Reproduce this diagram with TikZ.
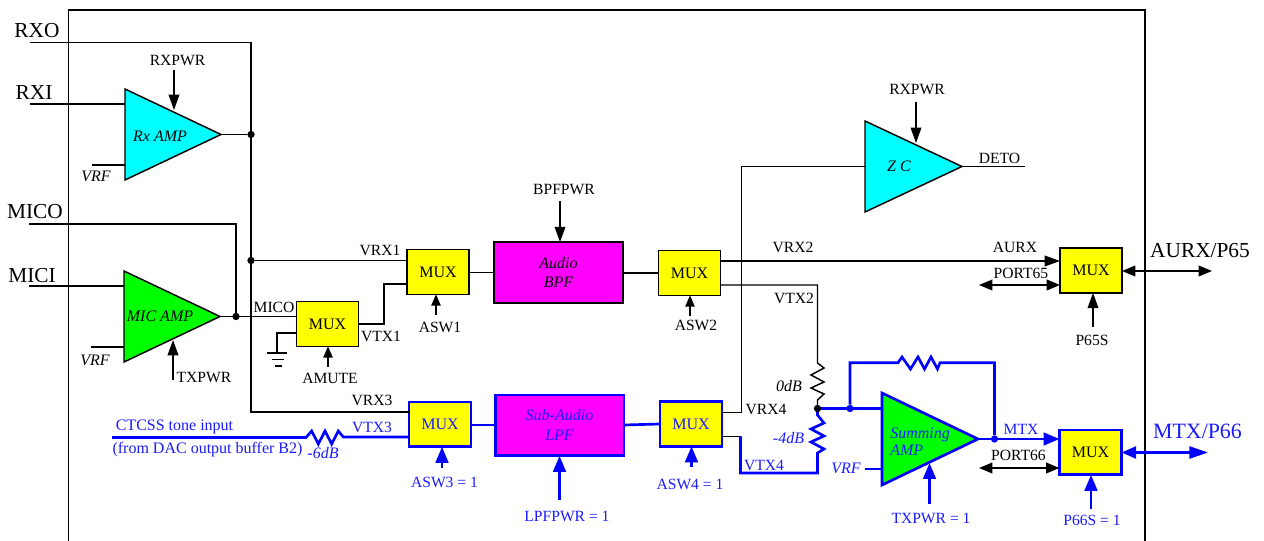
\documentclass[tikz,border=0pt]{standalone}
\usepackage{fontspec}
\setmainfont{Liberation Serif}
\usetikzlibrary{arrows.meta}
\definecolor{bl}{RGB}{0,0,255}
\definecolor{bltxt}{RGB}{26,26,255}
\definecolor{cy}{RGB}{0,255,255}
\definecolor{gr}{RGB}{0,255,0}
\definecolor{mg}{RGB}{255,0,255}
\definecolor{yl}{RGB}{255,255,0}
\tikzset{
  wire/.style={line width=1.1pt,black,line join=miter},
  bwire/.style={line width=2pt,bl,line join=miter},
  tipS/.style={-{Triangle[length=8.5pt,width=7pt]}},
  tipL/.style={-{Triangle[length=11.5pt,width=8pt]}},
  tipB/.style={-{Triangle[length=12pt,width=9.5pt]}},
  tipD/.style={{Triangle[length=10pt,width=8pt]}-{Triangle[length=10pt,width=8pt]}},
  tipBD/.style={{Triangle[length=11pt,width=9pt]}-{Triangle[length=14pt,width=9pt]}},
  lab/.style={inner sep=0pt,font=\fontsize{11.7}{13}\selectfont},
  blab/.style={lab,text=bltxt},
  big/.style={inner sep=0pt,font=\fontsize{16}{18}\selectfont},
  ital/.style={inner sep=0pt,font=\fontsize{12}{14}\selectfont\itshape},
  bital/.style={ital,text=bltxt},
  mux/.style={draw,fill=yl,line width=1.1pt,inner sep=0pt,outer sep=0pt,minimum width=46.5pt,minimum height=33.5pt,font=\fontsize{12}{14}\selectfont},
  bmux/.style={mux,draw=bl,line width=2pt},
  filt/.style={draw,fill=mg,line width=1.1pt,inner sep=0pt,outer sep=0pt,minimum width=96.5pt,minimum height=45.5pt},
  bfilt/.style={filt,draw=bl,line width=2pt},
  tri/.style={line width=1.1pt,line join=miter},
  btri/.style={line width=2pt,draw=bl,line join=miter},
  dot/.style={circle,fill=black,inner sep=0pt,minimum size=5.5pt},
  bdot/.style={circle,fill=bl,inner sep=0pt,minimum size=5.5pt},
}
\begin{document}
\begin{tikzpicture}[x=0.75pt,y=-0.75pt]
\useasboundingbox (0,0) rectangle (1264,541);
% outer box
\coordinate (bl1) at (68.5,541); \coordinate (tl1) at (68.5,10);
\coordinate (tr1) at (1145,10); \coordinate (br1) at (1145,541);
\draw[wire] (bl1) -- (tl1) -- (tr1) -- (br1);

% amplifiers
\draw[tri,fill=cy] (125,89) coordinate (rxa) -- (125,180) coordinate (rxb) -- (221,134.5) coordinate (rxo) -- cycle;
\draw[tri,fill=gr] (124,271) coordinate (mca) -- (124,362) coordinate (mcb) -- (220,316.5) coordinate (mco) -- cycle;
\draw[tri,fill=cy] (865,121) coordinate (zca) -- (865,212) coordinate (zcb) -- (962,166.5) coordinate (zco) -- cycle;
\draw[btri,fill=gr] (882,393) coordinate (sma) -- (882,485) coordinate (smb) -- (978,439) coordinate (smo) -- cycle;
\node[ital] (rxamp) at (160,136) {Rx AMP};
\node[ital] (micamp) at (160,316) {MIC AMP};
\node[ital] (zc) at (899,166) {Z C};
\node[bital,anchor=west] (sum1) at (890,435) {Summing};
\node[bital,anchor=west] (sum2) at (890,450) {AMP};

% blocks
\node[mux] (m1) at (438,272) {MUX};
\node[mux] (ma) at (327.5,324) {MUX};
\node[mux] (m2) at (689.5,273) {MUX};
\node[mux] (m5) at (1091,270.5) {MUX};
\node[bmux,text=bltxt] (m3) at (440,424.5) {MUX};
\node[bmux,text=bltxt] (m4) at (691,424) {MUX};
\node[bmux] (m6) at (1090.5,452.5) {MUX};
\node[filt] (bpf) at (558.5,272.5) {};
\node[bfilt] (lpf) at (559.5,425.5) {};
\node[ital] (bpft1) at (558.5,263) {Audio};
\node[ital] (bpft2) at (558.5,282) {BPF};
\node[bital] (lpft1) at (559.5,415) {Sub-Audio};
\node[bital] (lpft2) at (559.5,435) {LPF};

% junctions
\node[dot] (j1) at (251,134.5) {};
\node[dot] (j2) at (251,260.5) {};
\node[dot] (j3) at (236,316.5) {};
\node[bdot] (j5) at (850,408.5) {};
\node[bdot] (j6) at (994.5,439) {};

% free ends
\coordinate (rxoE) at (30,42.5);
\coordinate (rxiE) at (30,104);
\coordinate (micoE) at (29,224);
\coordinate (miciE) at (29,286);
\coordinate (vrfA) at (92,165);
\coordinate (vrfB) at (91,347);
\coordinate (vrfC) at (865,469);
\coordinate (detoE) at (1025,166.5);
\coordinate (ctE) at (112,437.5);
\coordinate (j4c) at (817.5,408.5);

% left side wiring
\draw[wire] (rxoE) -- (251,42.5) -- (251,412) -- (m3.west |- 0,412);
\draw[wire] (rxiE) -- (rxiE -| rxa);
\draw[wire] (vrfA) -- (vrfA -| rxa);
\draw[wire] (rxo) -- (j1);
\draw[wire] (j2) -- (m1.west |- j2);
\draw[wire] (micoE) -- (236,224) -- (j3);
\draw[wire] (miciE) -- (miciE -| mca);
\draw[wire] (vrfB) -- (vrfB -| mca);
\draw[wire] (mco) -- (ma.west |- mco);
\draw[wire] (ma.east |- 0,324) -- (384,324) -- (384,284) -- (m1.west |- 0,284);
% ground
\coordinate (g1) at (277,353);
\draw[wire] (ma.west |- 0,333) -- (277,333) -- (g1);
\draw[wire] (267,353) -- (287,353);
\draw[wire] (272,359.5) -- (284,359.5);
\draw[wire] (275,366) -- (281.5,366);

% middle wiring
\draw[wire] (m1.east |- 0,272.5) -- (bpf.west |- 0,272.5);
\draw[wire] (bpf.east |- 0,273) -- (m2.west |- 0,273);
\draw[wire,tipL] (m2.east |- 0,261) -- (m5.west |- 0,261);
\draw[wire] (m2.east |- 0,285) -- (817.5,285) -- (817.5,363) -- (824,368) -- (811,375) -- (824,382) -- (811,388) -- (824,394) -- (817.5,400) -- (j4c);
\draw[wire] (m4.east |- 0,412.5) -- (741.5,412.5) -- (741.5,166.5) -- (zca |- zco);
\draw[wire] (zco) -- (detoE);
\draw[wire] (m4.east |- 0,436.5) -- (740.5,436.5);

% blue wiring
\draw[bwire] (ctE) -- (306,437.5) -- (311.7,431) -- (318.3,444) -- (325,431) -- (331.7,444) -- (338.3,431) -- (343.3,437) -- (m3.west |- 0,437);
\draw[bwire] (m3.east |- 0,425) -- (lpf.west |- 0,425);
\draw[bwire] (lpf.east |- 0,425) -- (m4.west |- 0,424);
\draw[bwire] (740.5,436.5) -- (740.5,473) -- (817.5,473) -- (817.5,453) -- (824,449) -- (811,442) -- (824,436) -- (811,429) -- (824,423) -- (817.5,415) -- (j4c);
\draw[bwire] (j4c) -- (sma |- j4c);
\node[dot] (j4) at (j4c) {};
\draw[bwire] (j5) -- (850,362.7) -- (898,362.7) -- (902,357) -- (910.5,369) -- (918,357) -- (924.5,369) -- (931,357) -- (937.5,369) -- (940,362.7) -- (994.5,362.7) -- (j6);
\draw[bwire] (vrfC) -- (vrfC -| sma);
\draw[bwire,tipB] (smo) -- (m6.west |- smo);

% control arrows
\coordinate (pa) at (174,70); \draw[wire,tipL] (pa) -- (174,110);
\coordinate (pb) at (173,380); \draw[wire,tipL] (pb) -- (173,340);
\coordinate (pc) at (328,367); \draw[wire,tipS] (pc) -- (ma.south -| pc);
\coordinate (pd) at (436,315); \draw[wire,tipS] (pd) -- (m1.south -| pd);
\coordinate (pe) at (690,316); \draw[wire,tipS] (pe) -- (m2.south -| pe);
\coordinate (pf) at (560,201); \draw[wire,tipL] (pf) -- (bpf.north -| pf);
\coordinate (pg) at (916,102); \draw[wire,tipL] (pg) -- (916,143);
\coordinate (ph) at (1093,327); \draw[wire,tipL] (ph) -- (m5.south -| ph);
\coordinate (pi) at (442,468); \draw[bwire,tipB] (pi) -- (m3.south -| pi);
\coordinate (pj) at (559.5,500); \draw[bwire,tipB] (pj) -- (lpf.south -| pj);
\coordinate (pk) at (691.5,467); \draw[bwire,tipB] (pk) -- (m4.south -| pk);
\coordinate (pl) at (929.5,504); \draw[bwire,tipB] (pl) -- (929.5,463);
\coordinate (pm) at (1091,509); \draw[bwire,tipB] (pm) -- (m6.south -| pm);
% port arrows
\coordinate (qa) at (979,285); \draw[wire,tipD] (qa) -- (m5.west |- qa);
\coordinate (qb) at (979,468); \draw[wire,tipD] (qb) -- (m6.west |- qb);
\coordinate (qc) at (1212,271); \draw[wire,tipD] (m5.east |- qc) -- (qc);
\coordinate (qd) at (1208,452.5); \draw[bwire,tipBD] (m6.east |- qd) -- (qd);

% labels
\node[big] (t1) at (37,31) {RXO};
\node[big] (t2) at (34,93) {RXI};
\node[big] (t3) at (35,212) {MICO};
\node[big] (t4) at (32,276) {MICI};
\node[big] (t5) at (1200,251) {AURX/P65};
\node[big,text=bltxt,font=\fontsize{16.4}{18}\selectfont] (t6) at (1197.5,431) {MTX/P66};
\node[lab] (a1) at (177.5,60.5) {RXPWR};
\node[lab] (a2) at (204,378) {TXPWR};
\node[lab] (a3) at (274,307) {MICO};
\node[lab] (a4) at (330,378) {AMUTE};
\node[lab] (a5) at (381,336) {VTX1};
\node[lab] (a6) at (380,250) {VRX1};
\node[lab] (a7) at (440,327) {ASW1};
\node[lab] (a8) at (696,325) {ASW2};
\node[lab] (a9) at (564,190) {BPFPWR};
\node[lab] (a10) at (917,90) {RXPWR};
\node[lab] (a11) at (999.5,158) {DETO};
\node[lab] (a12) at (793,247) {VRX2};
\node[lab] (a13) at (794,298) {VTX2};
\node[lab] (a14) at (1015,247) {AURX};
\node[lab] (a15) at (1021,273) {PORT65};
\node[lab] (a16) at (1092,340) {P65S};
\node[lab] (a17) at (372,400) {VRX3};
\node[lab] (a18) at (766,409) {VRX4};
\node[lab] (a19) at (1018.5,455) {PORT66};
\node[blab] (a20) at (372,427) {VTX3};
\node[blab] (a21) at (764,465) {VTX4};
\node[blab] (a22) at (1021,429) {MTX};
\node[blab] (a23) at (444.5,482) {ASW3 = 1};
\node[blab] (a24) at (567,516) {LPFPWR = 1};
\node[blab] (a25) at (690,484) {ASW4 = 1};
\node[blab] (a26) at (931,518) {TXPWR = 1};
\node[blab] (a27) at (1092,520) {P66S = 1};
\node[blab,font=\fontsize{12}{14}\selectfont] (a28) at (174.5,427) {CTCSS tone input};
\node[blab,font=\fontsize{12}{14}\selectfont] (a29) at (207.5,450) {(from DAC output buffer B2)};
\node[ital] (v1) at (96,176.5) {VRF};
\node[ital] (v2) at (95,360) {VRF};
\node[bital] (v3) at (846,468) {VRF};
\node[bital] (r1) at (323,453) {-6dB};
\node[ital] (r2) at (789,386) {0dB};
\node[bital] (r3) at (788.5,438) {-4dB};
\end{tikzpicture}
\end{document}
